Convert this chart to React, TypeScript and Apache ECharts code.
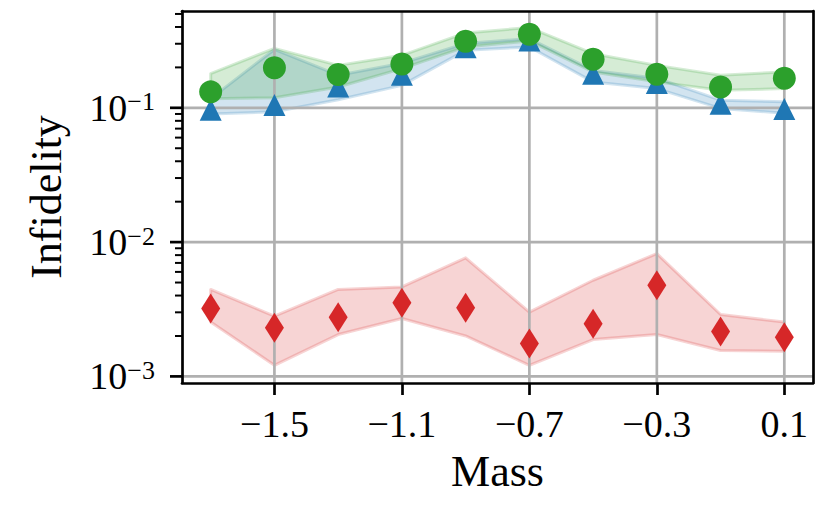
import React, { useEffect, useRef } from "react";
import * as echarts from "echarts";

const masses = [-1.7, -1.5, -1.3, -1.1, -0.9, -0.7, -0.5, -0.3, -0.1, 0.1];

const blueMid = [0.0966, 0.105, 0.144, 0.176, 0.283, 0.317, 0.179, 0.153, 0.107, 0.098];
const blueLow = [0.0898, 0.0934, 0.115, 0.147, 0.268, 0.284, 0.156, 0.139, 0.099, 0.091];
const blueHigh = [0.117, 0.272, 0.175, 0.215, 0.301, 0.328, 0.19, 0.166, 0.114, 0.111];

const greenMid = [0.1315, 0.199, 0.177, 0.212, 0.313, 0.353, 0.23, 0.178, 0.143, 0.166];
const greenLow = [0.117, 0.119, 0.143, 0.196, 0.284, 0.315, 0.185, 0.156, 0.135, 0.139];
const greenHigh = [0.18, 0.277, 0.207, 0.246, 0.361, 0.396, 0.253, 0.207, 0.175, 0.185];

const redMid = [3.21e-3, 2.3e-3, 2.76e-3, 3.53e-3, 3.24e-3, 1.76e-3, 2.47e-3, 4.77e-3, 2.16e-3, 1.96e-3];
const redLow = [2.54e-3, 1.21e-3, 2.05e-3, 2.7e-3, 2.0e-3, 1.21e-3, 1.88e-3, 2.05e-3, 1.56e-3, 1.54e-3];
const redHigh = [4.44e-3, 2.81e-3, 4.44e-3, 4.64e-3, 7.63e-3, 3.01e-3, 5.2e-3, 8.21e-3, 2.89e-3, 2.54e-3];

const xTicks = [-1.5, -1.1, -0.7, -0.3, 0.1];
const yMajor = [1e-3, 1e-2, 1e-1];
const yMinor = [
  2e-3, 3e-3, 4e-3, 5e-3, 6e-3, 7e-3, 8e-3, 9e-3,
  2e-2, 3e-2, 4e-2, 5e-2, 6e-2, 7e-2, 8e-2, 9e-2,
  2e-1, 3e-1, 4e-1, 5e-1,
];

const X_MIN = -1.79;
const X_MAX = 0.19;
const Y_MIN = 8.93e-4;
const Y_MAX = 0.526;

const FONT = "Liberation Serif";
const BLUE = "#1f77b4";
const GREEN = "#2ca02c";
const RED = "#d62728";
const GRID = "#b0b0b0";

const bands = [
  { low: blueLow, high: blueHigh, rgb: "31,119,180" },
  { low: greenLow, high: greenHigh, rgb: "44,160,44" },
  { low: redLow, high: redHigh, rgb: "214,39,40" },
];

function fmtX(v: number): string {
  const s = Math.abs(v).toFixed(1);
  return v < -1e-9 ? "\u2212" + s : s;
}

function fmtY(v: number): string {
  const e = Math.log10(v);
  const r = Math.round(e);
  if (Math.abs(e - r) > 1e-6) return "";
  return "{b|10}{s|" + (r < 0 ? "\u2212" : "") + Math.abs(r) + "}";
}

export default function App() {
  const ref = useRef<HTMLDivElement>(null);
  useEffect(() => {
    if (!ref.current) return;
    const chart = echarts.init(ref.current, undefined, { renderer: "svg" });

    const renderBg = (params: any, api: any) => {
      const children: any[] = [];
      bands.forEach((b) => {
        const pts: number[][] = [];
        masses.forEach((m, i) => pts.push(api.coord([m, b.high[i]])));
        for (let i = masses.length - 1; i >= 0; i--) pts.push(api.coord([masses[i], b.low[i]]));
        children.push({
          type: "polygon",
          shape: { points: pts },
          style: {
            fill: "rgba(" + b.rgb + ",0.2)",
            stroke: "rgba(" + b.rgb + ",0.2)",
            lineWidth: 3,
            lineJoin: "round",
          },
        });
      });
      xTicks.forEach((x) => {
        const p1 = api.coord([x, Y_MIN]);
        const p2 = api.coord([x, Y_MAX]);
        children.push({
          type: "line",
          shape: { x1: p1[0], y1: p1[1], x2: p2[0], y2: p2[1] },
          style: { stroke: GRID, lineWidth: 2.7 },
        });
      });
      yMajor.forEach((y) => {
        const p1 = api.coord([X_MIN, y]);
        const p2 = api.coord([X_MAX, y]);
        children.push({
          type: "line",
          shape: { x1: p1[0], y1: p1[1], x2: p2[0], y2: p2[1] },
          style: { stroke: GRID, lineWidth: 2.7 },
        });
        children.push({
          type: "line",
          shape: { x1: p1[0] - 12, y1: p1[1], x2: p1[0], y2: p1[1] },
          style: { stroke: "#000", lineWidth: 2.7 },
        });
      });
      yMinor.forEach((y) => {
        const p = api.coord([X_MIN, y]);
        children.push({
          type: "line",
          shape: { x1: p[0] - 7, y1: p[1], x2: p[0], y2: p[1] },
          style: { stroke: "#000", lineWidth: 2 },
        });
      });
      return { type: "group", children };
    };

    const pts = (ys: number[]) => masses.map((m, i) => [m, ys[i]]);

    chart.setOption({
      animation: false,
      backgroundColor: "#fff",
      textStyle: { fontFamily: FONT, color: "#000" },
      grid: { left: 182, right: 16, top: 11, bottom: 129, show: false },
      xAxis: [
        {
          type: "value",
          min: X_MIN,
          max: X_MAX,
          position: "bottom",
          z: 5,
          name: "Mass",
          nameLocation: "middle",
          nameGap: 66,
          nameTextStyle: { fontFamily: FONT, fontSize: 44, color: "#000", lineHeight: 44 },
          axisLine: { show: true, onZero: false, lineStyle: { color: "#000", width: 2.7 } },
          axisTick: {
            show: true,
            inside: false,
            length: 12,
            customValues: xTicks,
            lineStyle: { color: "#000", width: 2.7 },
          },
          axisLabel: {
            show: true,
            customValues: xTicks,
            margin: 22,
            fontFamily: FONT,
            fontSize: 38,
            lineHeight: 38,
            color: "#000",
            formatter: (v: number) => fmtX(v),
          },
          splitLine: { show: false },
        },
        {
          type: "value",
          min: X_MIN,
          max: X_MAX,
          position: "top",
          z: 5,
          axisLine: { show: true, onZero: false, lineStyle: { color: "#000", width: 2.7 } },
          axisTick: { show: false },
          axisLabel: { show: false },
          splitLine: { show: false },
        },
      ],
      yAxis: [
        {
          type: "log",
          min: Y_MIN,
          max: Y_MAX,
          logBase: 10,
          position: "left",
          z: 5,
          name: "Infidelity",
          nameLocation: "middle",
          nameGap: 114,
          nameRotate: 90,
          nameTextStyle: { fontFamily: FONT, fontSize: 44, color: "#000", lineHeight: 44 },
          axisLine: { show: true, onZero: false, lineStyle: { color: "#000", width: 2.7 } },
          axisTick: { show: false },
          axisLabel: {
            show: true,
            margin: 27,
            color: "#000",
            formatter: (v: number) => fmtY(v),
            rich: {
              b: { fontFamily: FONT, fontSize: 38, lineHeight: 38, color: "#000" },
              s: { fontFamily: FONT, fontSize: 26, lineHeight: 26, color: "#000", verticalAlign: "top" },
            },
          },
          splitLine: { show: false },
          minorTick: { show: false },
          minorSplitLine: { show: false },
        },
        {
          type: "log",
          min: Y_MIN,
          max: Y_MAX,
          logBase: 10,
          position: "right",
          z: 5,
          axisLine: { show: true, onZero: false, lineStyle: { color: "#000", width: 2.7 } },
          axisTick: { show: false },
          axisLabel: { show: false },
          splitLine: { show: false },
        },
      ],
      series: [
        {
          type: "custom",
          coordinateSystem: "cartesian2d",
          xAxisIndex: 0,
          yAxisIndex: 0,
          z: 1,
          silent: true,
          clip: false,
          data: [[masses[0], redMid[0]]],
          renderItem: renderBg,
        },
        {
          type: "scatter",
          xAxisIndex: 0,
          yAxisIndex: 0,
          z: 2,
          symbol: "triangle",
          symbolSize: 22,
          itemStyle: { color: BLUE, opacity: 1 },
          data: pts(blueMid),
        },
        {
          type: "scatter",
          xAxisIndex: 0,
          yAxisIndex: 0,
          z: 3,
          symbol: "circle",
          symbolSize: 23,
          itemStyle: { color: GREEN, opacity: 1 },
          data: pts(greenMid),
        },
        {
          type: "scatter",
          xAxisIndex: 0,
          yAxisIndex: 0,
          z: 4,
          symbol: "diamond",
          symbolSize: [19, 30],
          itemStyle: { color: RED, opacity: 1 },
          data: pts(redMid),
        },
      ],
    });
    return () => chart.dispose();
  }, []);

  return (
    <div
      ref={ref}
      style={{ position: "fixed", left: 0, top: 0, width: 829, height: 512, background: "#fff" }}
    />
  );
}
